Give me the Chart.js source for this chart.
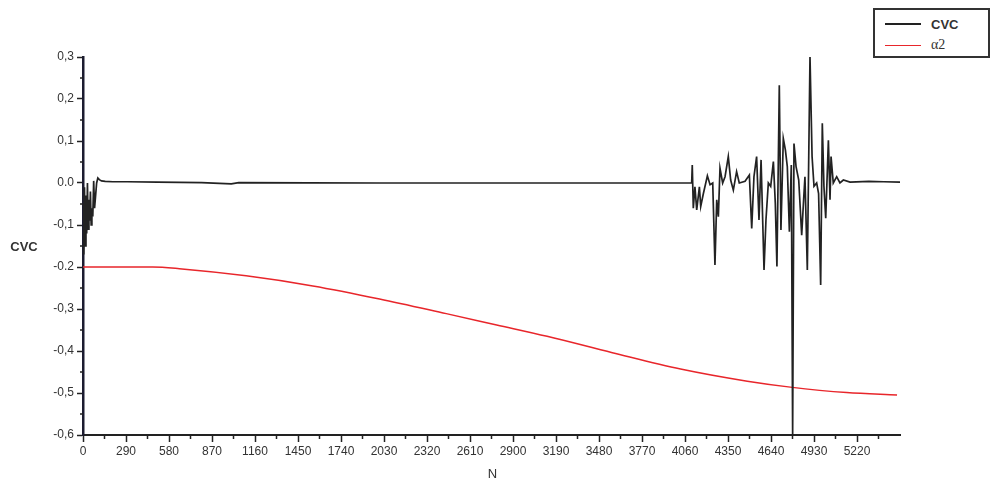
<!DOCTYPE html>
<html>
<head>
<meta charset="utf-8">
<script src="https://cdn.jsdelivr.net/npm/chart.js@4/dist/chart.umd.min.js"></script>
<style>
  body { margin: 0; background: #fff; }
  #wrap { position: relative; width: 994px; height: 486px; }
  #legend {
    position: absolute; left: 873px; top: 8px; width: 117px; height: 50px;
    border: 2px solid #333; background: #fff; box-sizing: border-box;
  }
  .row { position: absolute; left: 10px; height: 16px; display: flex; align-items: center; }
  .swatch { width: 36px; height: 0; margin-right: 10px; }
  .lbl { font: bold 13px "Liberation Sans", Arial, sans-serif; color: #333; }
</style>
</head>
<body>
<div id="wrap">
  <canvas id="chart"></canvas>
  <div id="legend"></div>
</div>
<script>
// CVC signal vs N
const cvcN = [
  0, 5, 10, 15, 20, 25, 30, 35, 40, 45, 50, 55, 60, 66, 72, 78, 85, 92, 100, 110, 125, 150, 200, 300, 500, 800,
  1000, 1050, 2000, 3000, 4105,
  4109, 4116, 4127, 4139, 4157, 4166, 4184, 4211, 4229, 4247, 4262, 4274, 4285, 4296, 4314, 4330, 4352, 4368,
  4386, 4408, 4426, 4465, 4494, 4510, 4525, 4543, 4559, 4573, 4593, 4606, 4622, 4638, 4656, 4669, 4680, 4696,
  4707, 4723, 4737, 4750, 4764, 4777, 4786, 4795, 4809, 4827, 4847, 4860, 4869, 4885, 4903, 4917, 4930, 4948,
  4961, 4975, 4986, 4997, 5009, 5027, 5038, 5045, 5060, 5083, 5105, 5128, 5173, 5300, 5400, 5510
];
const cvcValues = [
  -0.05, -0.17, -0.01, -0.15, -0.03, -0.12, 0.0, -0.11, -0.04, -0.09, -0.02, -0.10, -0.06, -0.08, 0.005, -0.06, -0.03, 0.0, 0.012, 0.008, 0.005, 0.004, 0.003, 0.003, 0.002, 0.001,
  -0.002, 0.001, 0.0, 0.0, 0.0,
  0.043, -0.060, -0.009, -0.064, -0.009, -0.056, -0.025, 0.017, -0.004, 0.0, -0.195, -0.040, -0.080, 0.035, 0.0, 0.015, 0.063, 0.007,
  -0.017, 0.027, 0.0, 0.004, 0.019, -0.108, 0.015, 0.063, -0.088, 0.055, -0.207, -0.088, 0.0, -0.008, 0.051, -0.048, -0.199, 0.233,
  -0.112, 0.106, 0.079, 0.039, -0.116, 0.043, -0.6, 0.094, 0.039, 0.007, -0.124, -0.040, 0.015, -0.207, 0.301, 0.063, -0.008, 0.0,
  -0.025, -0.243, 0.142, -0.008, -0.084, 0.102, -0.040, 0.063, 0.0, 0.015, 0.0, 0.007, 0.002, 0.004, 0.003, 0.002
];

// alpha2 curve
const alphaN = [0, 470, 650, 1100, 1550, 2000, 2450, 2790, 3130, 3570, 4030, 4480, 4770, 5150, 5490];
const alphaValues = [-0.2, -0.2, -0.204, -0.221, -0.245, -0.276, -0.311, -0.338, -0.365, -0.404, -0.443, -0.472, -0.486, -0.499, -0.505];

// axis ticks
const yTickLabels = ['0,3', '0,2', '0,1', '0.0', '-0,1', '-0.2', '-0,3', '-0,4', '-0,5', '-0,6'];
const yTickValues = [0.3, 0.2, 0.1, 0.0, -0.1, -0.2, -0.3, -0.4, -0.5, -0.6];
const xTickValues = [0, 290, 580, 870, 1160, 1450, 1740, 2030, 2320, 2610, 2900, 3190, 3480, 3770, 4060, 4350, 4640, 4930, 5220];

const tickFont = { family: '"Liberation Sans", Arial, sans-serif', size: 12 };

// minor ticks + axis titles
const extras = {
  id: 'extras',
  afterDraw(chart) {
    const ctx = chart.ctx;
    const xs = chart.scales.x, ys = chart.scales.y;
    const area = chart.chartArea;
    ctx.save();
    ctx.strokeStyle = '#222';
    ctx.lineWidth = 1.5;
    ctx.beginPath();
    for (let i = 0; i < xTickValues.length; i++) {
      const px = xs.getPixelForValue(xTickValues[i] + 145);
      if (px > area.right) continue;
      ctx.moveTo(px, area.bottom);
      ctx.lineTo(px, area.bottom + 4);
    }
    for (let i = 0; i < yTickValues.length - 1; i++) {
      const py = ys.getPixelForValue(yTickValues[i] - 0.05);
      ctx.moveTo(area.left, py);
      ctx.lineTo(area.left - 3, py);
    }
    ctx.stroke();

    ctx.fillStyle = '#333';
    ctx.font = 'bold 13px "Liberation Sans", Arial, sans-serif';
    ctx.textAlign = 'center';
    ctx.textBaseline = 'middle';
    ctx.fillText('CVC', 24, 247);
    ctx.font = '13px "Liberation Sans", Arial, sans-serif';
    ctx.fillText('N', (area.left + area.right) / 2 + 1, 474);
    ctx.restore();
  }
};

const chart = new Chart(document.getElementById('chart'), {
  type: 'line',
  data: {
    datasets: [
      {
        label: 'CVC',
        data: cvcN.map((n, i) => ({ x: n, y: cvcValues[i] })),
        borderColor: '#222',
        borderWidth: 1.7,
        pointRadius: 0,
        tension: 0
      },
      {
        label: 'α2',
        data: alphaN.map((n, i) => ({ x: n, y: alphaValues[i] })),
        borderColor: '#e8262b',
        borderWidth: 1.5,
        pointRadius: 0,
        cubicInterpolationMode: 'monotone'
      }
    ]
  },
  options: {
    responsive: true,
    maintainAspectRatio: false,
    animation: false,
    layout: { padding: { left: 0, top: 57, right: 94, bottom: 0 } },
    plugins: { legend: { display: false }, tooltip: { enabled: false } },
    scales: {
      x: {
        type: 'linear',
        min: 0,
        max: 5510,
        afterFit: s => { s.height = 51; },
        afterBuildTicks: s => { s.ticks = xTickValues.map(v => ({ value: v })); },
        ticks: {
          font: tickFont, color: '#333', padding: 2, maxRotation: 0, autoSkip: false,
          callback: v => String(v)
        },
        grid: { drawOnChartArea: false, tickLength: 7, tickWidth: 1.5, tickColor: '#222' },
        border: { color: '#222', width: 2 }
      },
      y: {
        min: -0.6,
        max: 0.3,
        afterFit: s => { s.width = 83; },
        afterBuildTicks: s => { s.ticks = yTickValues.map(v => ({ value: v })); },
        ticks: {
          font: tickFont, color: '#333', padding: 3, autoSkip: false,
          callback: (v, i) => yTickLabels[i]
        },
        grid: { drawOnChartArea: false, tickLength: 6, tickWidth: 1.5, tickColor: '#222' },
        border: { color: '#1c1c30', width: 2.5 }
      }
    }
  },
  plugins: [extras]
});

// html legend built from the datasets
const legendEl = document.getElementById('legend');
chart.data.datasets.forEach((ds, i) => {
  const row = document.createElement('div');
  row.className = 'row';
  row.style.top = (i === 0 ? 6 : 27) + 'px';
  const sw = document.createElement('div');
  sw.className = 'swatch';
  sw.style.borderTop = (i === 0 ? 2 : 1) + 'px solid ' + ds.borderColor;
  const lbl = document.createElement('span');
  lbl.className = 'lbl';
  lbl.textContent = ds.label;
  if (i === 1) { lbl.style.font = '14px "Liberation Serif", "Times New Roman", serif'; }
  row.appendChild(sw);
  row.appendChild(lbl);
  legendEl.appendChild(row);
});
</script>
</body>
</html>
